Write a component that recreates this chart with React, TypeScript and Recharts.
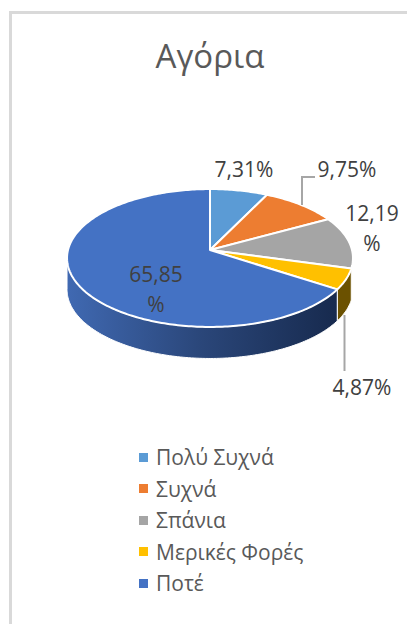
import React from "react";
import { PieChart, Pie, Legend } from "recharts";

const categories = ["Πολύ Συχνά", "Συχνά", "Σπάνια", "Μερικές Φορές", "Ποτέ"];
const shares = [7.31, 9.75, 12.19, 4.87, 65.85];
const colors = ["#5b9bd5", "#ed7d31", "#a5a5a5", "#ffc000", "#4472c4"];

const tableData = categories.map((name, i) => ({ name, value: shares[i], fill: colors[i] }));

const FONT = "'Open Sans', 'Noto Sans', sans-serif";
const PERSPECTIVE = 0.116;
const TILT = 0.479;
const DEPTH = 0.222;
const CX = 210;
const CY = 250;
const RADIUS = 142;

const project = (cx: number, cy: number, r: number, deg: number) => {
  const t = (deg * Math.PI) / 180;
  const w = 1 + PERSPECTIVE * Math.cos(t);
  return [cx + (r * Math.sin(t)) / w, cy - (r * TILT * Math.cos(t)) / w];
};

const rim = (cx: number, cy: number, r: number, from: number, to: number) => {
  const pts: number[][] = [];
  const steps = Math.max(2, Math.ceil(Math.abs(to - from)));
  for (let i = 0; i <= steps; i++) pts.push(project(cx, cy, r, from + ((to - from) * i) / steps));
  return pts;
};

const toPath = (pts: number[][]) =>
  pts.map((p, i) => `${i ? "L" : "M"}${p[0].toFixed(2)},${p[1].toFixed(2)}`).join("") + "Z";

const FRONT_FROM = 104;
const FRONT_TO = 263.4;

const Slice3D = (props: any) => {
  const { cx, cy, outerRadius, startAngle, endAngle, fill } = props;
  const from = 90 - startAngle;
  const to = 90 - endAngle;
  const top = [[cx, cy], ...rim(cx, cy, outerRadius, from, to)];
  const a = Math.max(from, FRONT_FROM);
  const b = Math.min(to, FRONT_TO);
  const isBlue = fill === colors[4];
  let side: React.ReactNode = null;
  if (b > a) {
    const upper = rim(cx, cy, outerRadius, a, b);
    const d = outerRadius * DEPTH;
    const lower = upper.map((p) => [p[0], p[1] + d]).reverse();
    side = (
      <path
        d={toPath([...upper, ...lower])}
        fill={isBlue ? "url(#sideBlue)" : "#6b5100"}
        stroke="#ffffff"
        strokeWidth={1}
      />
    );
  }
  return (
    <g>
      <defs>
        <linearGradient id="sideBlue" x1="1" y1="0" x2="0" y2="0">
          <stop offset="0" stopColor="#172a4e" />
          <stop offset="0.5" stopColor="#2a4679" />
          <stop offset="1" stopColor="#4069b2" />
        </linearGradient>
      </defs>
      {side}
      <path d={toPath(top)} fill={fill} stroke="#ffffff" strokeWidth={2} strokeLinejoin="round" />
    </g>
  );
};

const labelPlacement: Record<number, { x: number; y: number; wrap?: boolean; leader?: string }> = {
  0: { x: 244, y: 177 },
  1: { x: 347, y: 177, leader: "302,205 302,177 315,177" },
  2: { x: 372, y: 221, wrap: true },
  3: { x: 362, y: 395, leader: "344.5,315 344.5,371" },
  4: { x: 156, y: 282, wrap: true },
};

const fmt = (v: number) => v.toFixed(2).replace(".", ",");

const SliceLabel = (props: any) => {
  const place = labelPlacement[props.index];
  const style = { fontFamily: FONT, fontSize: 21, fill: "#404040" };
  return (
    <g>
      {place.leader && <polyline points={place.leader} fill="none" stroke="#a6a6a6" strokeWidth={2} />}
      {place.wrap ? (
        <>
          <text x={place.x} y={place.y} textAnchor="middle" style={style}>{fmt(props.value)}</text>
          <text x={place.x} y={place.y + 30} textAnchor="middle" style={style}>%</text>
        </>
      ) : (
        <text x={place.x} y={place.y} textAnchor="middle" style={style}>{fmt(props.value)}%</text>
      )}
    </g>
  );
};

const LegendList = ({ payload }: any) => (
  <div style={{ fontFamily: FONT, fontSize: 21, color: "#595959" }}>
    {(payload || []).map((e: any) => (
      <div key={e.value} style={{ display: "flex", alignItems: "center", height: 31.5, whiteSpace: "nowrap" }}>
        <span style={{ width: 9, height: 9, background: e.color, marginRight: 8, display: "inline-block" }} />
        <span>{e.value}</span>
      </div>
    ))}
  </div>
);

export default function App() {
  return (
    <div style={{ position: "fixed", left: 0, top: 0, width: 407, height: 624, overflow: "hidden", background: "#fff" }}>
      <div
        style={{
          position: "absolute",
          left: 9,
          top: 11,
          width: 420,
          height: 640,
          borderLeft: "3px solid #d9d9d9",
          borderTop: "3px solid #d9d9d9",
        }}
      />
      <div style={{ position: "absolute", left: 0, top: 0 }}>
        <PieChart width={407} height={624} margin={{ top: 0, right: 0, bottom: 0, left: 0 }}>
          <text x={210} y={68} textAnchor="middle" style={{ fontFamily: FONT, fontSize: 33, fill: "#595959" }}>
            Αγόρια
          </text>
          <Pie
            data={tableData}
            dataKey="value"
            nameKey="name"
            cx={CX}
            cy={CY}
            outerRadius={RADIUS}
            startAngle={90}
            endAngle={-270}
            isAnimationActive={false}
            shape={Slice3D}
            label={SliceLabel}
            labelLine={false}
          />
          <Legend
            content={LegendList}
            itemSorter={null}
            layout="vertical"
            wrapperStyle={{ position: "absolute", left: 139, top: 441.5, width: 230, bottom: "auto" }}
          />
        </PieChart>
      </div>
    </div>
  );
}
